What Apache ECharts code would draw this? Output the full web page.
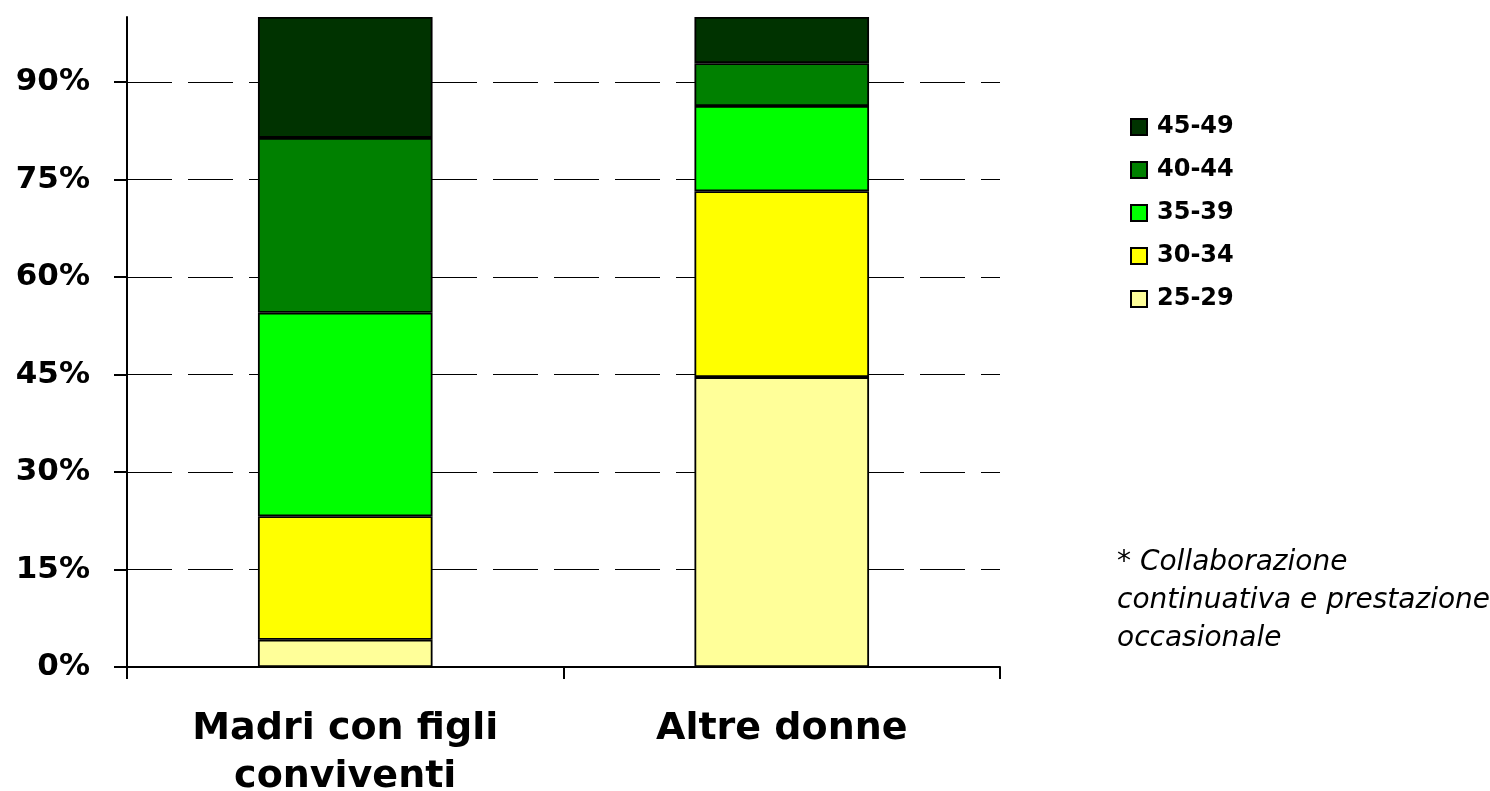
<!DOCTYPE html>
<html><head><meta charset="utf-8">
<script src="https://cdn.jsdelivr.net/npm/echarts@6/dist/echarts.min.js"></script>
<style>html,body{margin:0;padding:0;background:#fff}#c{width:1490px;height:791px}</style>
</head><body><div id="c"></div>
<script>
const categories = ['Madri con figli\nconviventi', 'Altre donne'];
const ageGroups = ['25-29', '30-34', '35-39', '40-44', '45-49'];
const v2529 = [4.2, 44.6];
const v3034 = [19.0, 28.6];
const v3539 = [31.3, 13.1];
const v4044 = [26.9, 6.6];
const v4549 = [18.6, 7.1];
const tickValues = [0, 15, 30, 45, 60, 75, 90];
const gridValues = [15, 30, 45, 60, 75, 90];
const colors = ['#FFFF99', '#FFFF00', '#00FF00', '#008000', '#003300'];
const noteText = '* Collaborazione\ncontinuativa e prestazione\noccasionale';

const seriesValues = [v2529, v3034, v3539, v4044, v4549];
const FONT = '"DejaVu Sans", "Liberation Sans", Arial, sans-serif';

const series = ageGroups.map((name, i) => ({
  name,
  type: 'bar',
  stack: 'total',
  barWidth: '40%',
  data: seriesValues[i],
  itemStyle: { color: colors[i], borderColor: '#000', borderWidth: 1.8 },
  emphasis: { disabled: true },
  z: 2
}));
series[0].markLine = {
  silent: true,
  symbol: 'none',
  z: 1,
  label: { show: false },
  lineStyle: { color: '#000', width: 1, type: [45, 16] },
  data: gridValues.map(v => ({ yAxis: v }))
};

const chart = echarts.init(document.getElementById('c'), null, { renderer: 'canvas' });
chart.setOption({
  animation: false,
  backgroundColor: '#fff',
  textStyle: { fontFamily: FONT },
  grid: { left: 127, right: 490, top: 17, bottom: 124, containLabel: false, outerBoundsMode: 'none' },
  legend: {
    data: ageGroups.slice().reverse(),
    orient: 'vertical',
    left: 1125,
    top: 110,
    itemWidth: 16,
    itemHeight: 16,
    itemGap: 19,
    icon: 'rect',
    textStyle: { fontFamily: FONT, fontSize: 24, fontWeight: 'bold', color: '#000', padding: [0, 0, 0, 5] }
  },
  xAxis: {
    type: 'category',
    data: categories,
    boundaryGap: true,
    axisLine: { lineStyle: { color: '#000', width: 2 } },
    axisTick: { show: true, length: 12, lineStyle: { color: '#000', width: 2 } },
    axisLabel: { fontFamily: FONT, fontSize: 38, fontWeight: 'bold', color: '#000', lineHeight: 48, margin: 38, interval: 0 },
    splitLine: { show: false }
  },
  yAxis: {
    type: 'value',
    min: 0,
    max: 100,
    interval: 15,
    axisLine: { show: true, lineStyle: { color: '#000', width: 2 } },
    axisTick: { show: true, length: 13, customValues: tickValues, lineStyle: { color: '#000', width: 2 } },
    axisLabel: { customValues: tickValues, formatter: '{value}%', fontFamily: FONT, fontSize: 31, fontWeight: 'bold', color: '#000', margin: 37 },
    splitLine: { show: false }
  },
  graphic: [{
    type: 'text',
    left: 1117,
    top: 544,
    style: { text: noteText, font: 'italic 28px "DejaVu Sans", "Liberation Sans", Arial, sans-serif', fill: '#000', lineHeight: 38 }
  }],
  series
});
</script></body></html>
